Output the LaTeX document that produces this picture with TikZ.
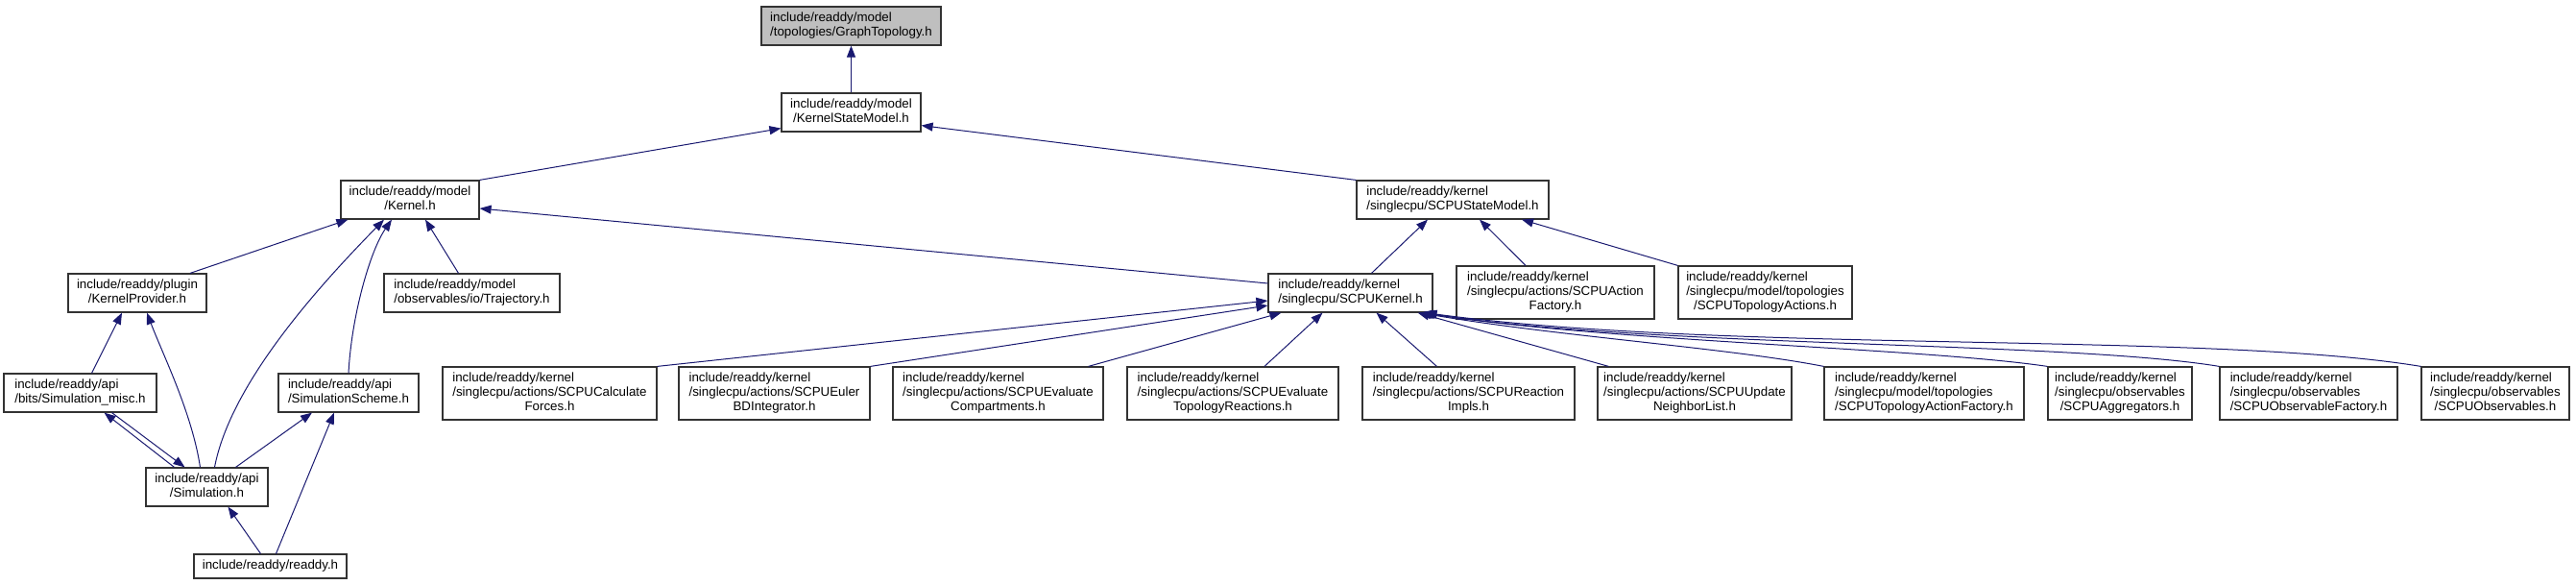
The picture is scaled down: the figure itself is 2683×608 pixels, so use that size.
\documentclass[tikz,border=0pt]{standalone}
\usepackage{fontspec}
\setmainfont{Liberation Sans}
\usepackage{tikz}
\usetikzlibrary{arrows.meta}
\definecolor{edgeblue}{HTML}{191970}
\definecolor{rootgray}{HTML}{BFBFBF}
% label lines: all left aligned but the last, which is centred
\newcommand{\lblone}[1]{\begin{tabular}{@{}c@{}}#1\end{tabular}}
\newcommand{\lbltwo}[2]{\begin{tabular}{@{}l@{}}#1\\\multicolumn{1}{@{}c@{}}{#2}\end{tabular}}
\newcommand{\lblthree}[3]{\begin{tabular}{@{}l@{}}#1\\#2\\\multicolumn{1}{@{}c@{}}{#3}\end{tabular}}
\tikzset{
  filebox/.style={rectangle,draw=black!80,line width=1.2pt,fill=white,inner xsep=4pt,inner ysep=0pt,
    minimum height=40pt,font=\fontsize{13.33}{15}\selectfont},
  rootbox/.style={filebox,fill=rootgray},
  tallbox/.style={filebox,minimum height=55pt},
  lowbox/.style={filebox,minimum height=25pt},
  inclimp/.style={->,>={Triangle[length=12pt,width=9pt]},line width=1pt,edgeblue},
}

\begin{document}
\begin{tikzpicture}[x=1pt,y=1pt]
  \useasboundingbox (0,0) rectangle (2683,-608);
  \node[rootbox,minimum width=187pt] (ngtopo) at (886.5,-27) {\lbltwo{include/readdy/model}{/topologies/GraphTopology.h}};
  \node[filebox,minimum width=145pt] (nksm) at (886.5,-117) {\lbltwo{include/readdy/model}{/KernelStateModel.h}};
  \node[filebox,minimum width=144pt] (nkern) at (427,-208) {\lbltwo{include/readdy/model}{/Kernel.h}};
  \node[filebox,minimum width=200pt] (nscpusm) at (1513,-208) {\lbltwo{include/readdy/kernel}{/singlecpu/SCPUStateModel.h}};
  \node[filebox,minimum width=144pt] (nkprov) at (143,-305) {\lbltwo{include/readdy/plugin}{/KernelProvider.h}};
  \node[filebox,minimum width=183pt] (ntraj) at (491.5,-305) {\lbltwo{include/readdy/model}{/observables/io/Trajectory.h}};
  \node[filebox,minimum width=171pt] (nscpuk) at (1406.5,-305) {\lbltwo{include/readdy/kernel}{/singlecpu/SCPUKernel.h}};
  \node[tallbox,minimum width=206pt] (nactfac) at (1620,-304.5) {\lblthree{include/readdy/kernel}{/singlecpu/actions/SCPUAction}{Factory.h}};
  \node[tallbox,minimum width=181pt] (ntopact) at (1838.5,-304.5) {\lblthree{include/readdy/kernel}{/singlecpu/model/topologies}{/SCPUTopologyActions.h}};
  \node[filebox,minimum width=159pt] (nsmisc) at (83.5,-409) {\lbltwo{include/readdy/api}{/bits/Simulation\_misc.h}};
  \node[filebox,minimum width=146pt] (nsscheme) at (363,-409) {\lbltwo{include/readdy/api}{/SimulationScheme.h}};
  \node[tallbox,minimum width=223pt] (ncalcf) at (572.5,-409.5) {\lblthree{include/readdy/kernel}{/singlecpu/actions/SCPUCalculate}{Forces.h}};
  \node[tallbox,minimum width=199pt] (neulerbd) at (806.5,-409.5) {\lblthree{include/readdy/kernel}{/singlecpu/actions/SCPUEuler}{BDIntegrator.h}};
  \node[tallbox,minimum width=219pt] (nevalcomp) at (1039.5,-409.5) {\lblthree{include/readdy/kernel}{/singlecpu/actions/SCPUEvaluate}{Compartments.h}};
  \node[tallbox,minimum width=220pt] (nevaltop) at (1284,-409.5) {\lblthree{include/readdy/kernel}{/singlecpu/actions/SCPUEvaluate}{TopologyReactions.h}};
  \node[tallbox,minimum width=221pt] (nreacimpl) at (1529.5,-409.5) {\lblthree{include/readdy/kernel}{/singlecpu/actions/SCPUReaction}{Impls.h}};
  \node[tallbox,minimum width=202pt] (nupdnl) at (1765,-409.5) {\lblthree{include/readdy/kernel}{/singlecpu/actions/SCPUUpdate}{NeighborList.h}};
  \node[tallbox,minimum width=208pt] (ntopfac) at (2004,-409.5) {\lblthree{include/readdy/kernel}{/singlecpu/model/topologies}{/SCPUTopologyActionFactory.h}};
  \node[tallbox,minimum width=150pt] (naggr) at (2208,-409.5) {\lblthree{include/readdy/kernel}{/singlecpu/observables}{/SCPUAggregators.h}};
  \node[tallbox,minimum width=185pt] (nobsfac) at (2404.5,-409.5) {\lblthree{include/readdy/kernel}{/singlecpu/observables}{/SCPUObservableFactory.h}};
  \node[tallbox,minimum width=154pt] (nobs) at (2599,-409.5) {\lblthree{include/readdy/kernel}{/singlecpu/observables}{/SCPUObservables.h}};
  \node[filebox,minimum width=127pt] (nsim) at (215.5,-507) {\lbltwo{include/readdy/api}{/Simulation.h}};
  \node[lowbox,minimum width=159pt] (nreaddy) at (281.5,-589.5) {\lblone{include/readdy/readdy.h}};

  \draw[inclimp] (nksm) -- (ngtopo);
  \draw[inclimp] (nkern.north east) -- ([yshift=4pt]nksm.south west);
  \draw[inclimp] (nscpusm.north west) -- ([yshift=7pt]nksm.south east);
  \draw[inclimp] ([xshift=55pt]nkprov.north) -- ([xshift=8pt]nkern.south west);
  \draw[inclimp] ([xshift=8pt]nsim.north) .. controls (240,-400) and (330,-300) .. ([xshift=-27pt]nkern.south);
  \draw[inclimp] (nsscheme.north) .. controls (366,-330) and (385,-262) .. ([xshift=-19pt]nkern.south);
  \draw[inclimp] ([xshift=-14pt]ntraj.north) -- ([xshift=16pt]nkern.south);
  \draw[inclimp] ([yshift=10pt]nscpuk.west) -- ([yshift=-9pt]nkern.east);
  \draw[inclimp] ([xshift=12pt]nsmisc.north) -- ([xshift=-16pt]nkprov.south);
  \draw[inclimp] ([xshift=-7pt]nsim.north) .. controls (200,-430) and (170,-370) .. ([xshift=10pt]nkprov.south);
  \draw[inclimp] ([xshift=-34pt]nsim.north) -- ([xshift=25pt]nsmisc.south);
  \draw[inclimp] ([xshift=33pt]nsmisc.south) -- ([xshift=-23pt]nsim.north);
  \draw[inclimp] ([xshift=30pt]nsim.north) -- ([xshift=-38pt]nsscheme.south);
  \draw[inclimp] ([xshift=6pt]nreaddy.north) -- ([xshift=-15pt]nsscheme.south);
  \draw[inclimp] ([xshift=-10pt]nreaddy.north) -- ([xshift=22pt]nsim.south);
  \draw[inclimp] ([xshift=22pt]nscpuk.north) -- ([xshift=-26pt]nscpusm.south);
  \draw[inclimp] ([xshift=-31pt]nactfac.north) -- ([xshift=28pt]nscpusm.south);
  \draw[inclimp] (ntopact.north west) -- ([xshift=72pt]nscpusm.south);
  \draw[inclimp] (ncalcf.north east) -- ([yshift=-8pt]nscpuk.west);
  \draw[inclimp] (neulerbd.north east) -- ([yshift=-13pt]nscpuk.west);
  \draw[inclimp] ([xshift=-16pt]nevalcomp.north east) -- ([xshift=14pt]nscpuk.south west);
  \draw[inclimp] ([xshift=33pt]nevaltop.north) -- ([xshift=-29pt]nscpuk.south);
  \draw[inclimp] ([xshift=-33pt]nreacimpl.north) -- ([xshift=27pt]nscpuk.south);
  \draw[inclimp] ([xshift=12pt]nupdnl.north west) -- ([xshift=-16pt]nscpuk.south east);
  \draw[inclimp] (ntopfac.north west) .. controls (1800,-362) and (1620,-350) .. ([xshift=-14pt]nscpuk.south east);
  \draw[inclimp] (naggr.north west) .. controls (2000,-362) and (1680,-356) .. ([xshift=-12pt]nscpuk.south east);
  \draw[inclimp] (nobsfac.north west) .. controls (2150,-355) and (1720,-362) .. ([xshift=-10pt]nscpuk.south east);
  \draw[inclimp] (nobs.north west) .. controls (2300,-345) and (1800,-368) .. ([xshift=-8pt]nscpuk.south east);
\end{tikzpicture}
\end{document}
